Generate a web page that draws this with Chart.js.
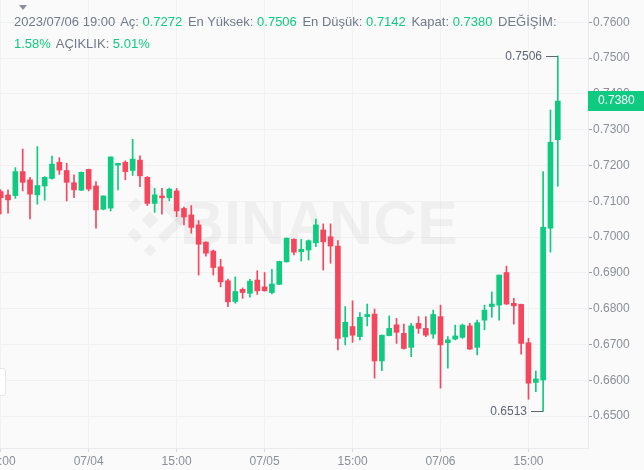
<!DOCTYPE html>
<html>
<head>
<meta charset="utf-8">
<script src="https://cdn.jsdelivr.net/npm/chart.js@4.4.0/dist/chart.umd.min.js"></script>
<style>
    html, body { margin: 0; padding: 0; background: #fafafa; }
    #wrap { position: relative; width: 644px; height: 470px; overflow: hidden; }
    #c { position: absolute; left: 0; top: 0; }
    .header { position: absolute; left: 14px; font: 13px 'Liberation Sans', Arial, sans-serif; color: #707a8a; white-space: nowrap; }
    .header span { margin-right: 2px; }
    .v { color: #0ecb81; }
    #caret { position: absolute; left: 19px; top: 5px; width: 0; height: 0;
             border-left: 4px solid transparent; border-right: 4px solid transparent; border-top: 5px solid #8a8f98; }
    #tab { position: absolute; left: -6px; top: 368px; width: 10px; height: 26px; background: #fff;
           border: 1px solid #e3e5e8; border-radius: 3px; }
</style>
</head>
<body>
<div id="wrap">
    <canvas id="c" width="644" height="470"></canvas>
    <div id="caret"></div>
    <div id="tab"></div>
    <div class="header" style="top:14px">
        <span>2023/07/06 19:00</span>
        <span>Aç: <b class="v" style="font-weight:normal">0.7272</b></span>
        <span>En Yüksek: <b class="v" style="font-weight:normal">0.7506</b></span>
        <span>En Düşük: <b class="v" style="font-weight:normal">0.7142</b></span>
        <span>Kapat: <b class="v" style="font-weight:normal">0.7380</b></span>
        <span>DEĞİŞİM:</span>
    </div>
    <div class="header" style="top:36px">
        <span class="v">1.58%</span>
        <span>AÇIKLIK: <b class="v" style="font-weight:normal">5.01%</b></span>
    </div>
</div>
<script>
// hourly candles, 2023/07/03 15:00 .. 2023/07/06 19:00
const opens = [
    0.7127, 0.7118, 0.7116, 0.7183, 0.7160, 0.7118, 0.7143, 0.7164, 0.7209, 0.7186,
    0.7152, 0.7131, 0.7189, 0.7143, 0.7078, 0.7081, 0.7201, 0.7209, 0.7186, 0.7215,
    0.7167, 0.7094, 0.7115, 0.7110, 0.7129, 0.7080, 0.7062, 0.7034, 0.6986, 0.6961,
    0.6917, 0.6878, 0.6820, 0.6854, 0.6843, 0.6880, 0.6861, 0.6845, 0.6868, 0.6931,
    0.6994, 0.6959, 0.6964, 0.6984, 0.7020, 0.7001, 0.6975, 0.6721, 0.6750, 0.6722,
    0.6778, 0.6785, 0.6654, 0.6725, 0.6755, 0.6731, 0.6692, 0.6759, 0.6745, 0.6729,
    0.6778, 0.6705, 0.6715, 0.6720, 0.6752, 0.6692, 0.6768, 0.6806, 0.6810, 0.6901,
    0.6815, 0.6812, 0.6705, 0.6594, 0.6601, 0.7025, 0.7272
];
const highs = [
    0.7132, 0.7132, 0.7194, 0.7246, 0.7167, 0.7253, 0.7169, 0.7226, 0.7222, 0.7206,
    0.7174, 0.7182, 0.7190, 0.7155, 0.7115, 0.7224, 0.7207, 0.7213, 0.7273, 0.7227,
    0.7169, 0.7136, 0.7136, 0.7137, 0.7136, 0.7084, 0.7088, 0.7046, 0.6987, 0.6964,
    0.6938, 0.6883, 0.6889, 0.6858, 0.6882, 0.6906, 0.6901, 0.6910, 0.6933, 0.6998,
    0.6995, 0.6994, 0.6992, 0.7050, 0.7037, 0.7037, 0.6990, 0.6806, 0.6822, 0.6789,
    0.6813, 0.6799, 0.6726, 0.6780, 0.6773, 0.6757, 0.6759, 0.6778, 0.6778, 0.6796,
    0.6810, 0.6722, 0.6754, 0.6757, 0.6759, 0.6768, 0.6810, 0.6847, 0.6894, 0.6919,
    0.6829, 0.6813, 0.6717, 0.6626, 0.7183, 0.7355, 0.7506
];
const lows = [
    0.7065, 0.7067, 0.7108, 0.7129, 0.7051, 0.7092, 0.7103, 0.7162, 0.7175, 0.7101,
    0.7110, 0.7130, 0.7129, 0.7025, 0.7076, 0.7073, 0.7132, 0.7160, 0.7172, 0.7141,
    0.7088, 0.7069, 0.7064, 0.7101, 0.7057, 0.7034, 0.7011, 0.6894, 0.6947, 0.6894,
    0.6861, 0.6806, 0.6815, 0.6829, 0.6832, 0.6840, 0.6849, 0.6841, 0.6867, 0.6930,
    0.6950, 0.6933, 0.6936, 0.6973, 0.6908, 0.6927, 0.6685, 0.6699, 0.6706, 0.6713,
    0.6752, 0.6606, 0.6627, 0.6724, 0.6703, 0.6687, 0.6666, 0.6731, 0.6722, 0.6717,
    0.6578, 0.6634, 0.6713, 0.6717, 0.6686, 0.6671, 0.6741, 0.6776, 0.6768, 0.6812,
    0.6757, 0.6673, 0.6547, 0.6568, 0.6513, 0.6958, 0.7142
];
const closes = [
    0.7110, 0.7104, 0.7183, 0.7153, 0.7120, 0.7144, 0.7167, 0.7204, 0.7187, 0.7153,
    0.7132, 0.7181, 0.7134, 0.7076, 0.7115, 0.7224, 0.7206, 0.7183, 0.7218, 0.7171,
    0.7094, 0.7118, 0.7110, 0.7134, 0.7073, 0.7056, 0.7027, 0.6980, 0.6955, 0.6915,
    0.6875, 0.6819, 0.6848, 0.6845, 0.6877, 0.6850, 0.6850, 0.6869, 0.6932, 0.6997,
    0.6958, 0.6966, 0.6990, 0.7034, 0.6987, 0.6975, 0.6717, 0.6762, 0.6726, 0.6776,
    0.6784, 0.6654, 0.6726, 0.6745, 0.6734, 0.6689, 0.6752, 0.6745, 0.6726, 0.6784,
    0.6699, 0.6713, 0.6724, 0.6754, 0.6687, 0.6761, 0.6796, 0.6813, 0.6894, 0.6813,
    0.6808, 0.6703, 0.6592, 0.6604, 0.7027, 0.7265, 0.7380
];

const xTickIdx = [0, 12, 24, 36, 48, 60, 72];
const xTickLabels = ['15:00', '07/04', '15:00', '07/05', '15:00', '07/06', '15:00'];
const yTicks = [0.65, 0.66, 0.67, 0.68, 0.69, 0.70, 0.71, 0.72, 0.73, 0.74, 0.75, 0.76];

const UP = '#0ecb81';
const DOWN = '#f6465d';
const AXIS_TEXT = '#8a8f98';

const colors = opens.map((o, i) => closes[i] >= o ? UP : DOWN);
const wickData = opens.map((o, i) => ({ x: i, y: [lows[i], highs[i]] }));
const bodyData = opens.map((o, i) => ({ x: i, y: [o, closes[i]] }));

const watermark = {
    id: 'watermark',
    beforeDatasetsDraw(chart) {
        const ctx = chart.ctx;
        ctx.save();
        ctx.fillStyle = 'rgba(0,0,0,0.045)';
        ctx.font = "bold 61px 'Liberation Sans', Arial, sans-serif";
        ctx.textBaseline = 'alphabetic';
        ctx.fillText('BINANCE', 180, 244);
        // rough logo: diamond built from rotated squares
        ctx.translate(150, 220);
        ctx.rotate(Math.PI / 4);
        ctx.fillRect(-6, -6, 12, 12);
        ctx.fillRect(-26, -26, 9, 9);
        ctx.fillRect(17, 17, 9, 9);
        ctx.fillRect(-26, -6, 9, 12);
        ctx.fillRect(-6, 17, 12, 9);
        ctx.fillRect(-6, -26, 32, 9);
        ctx.fillRect(17, -26, 9, 32);
        ctx.restore();
    }
};

const marks = {
    id: 'marks',
    afterDraw(chart) {
        const ctx = chart.ctx;
        const xs = chart.scales.x;
        const ys = chart.scales.y;
        const hi = Math.max(...highs);
        const lo = Math.min(...lows);
        const hiIdx = highs.indexOf(hi);
        const loIdx = lows.indexOf(lo);

        ctx.save();
        ctx.font = "12px 'Liberation Sans', Arial, sans-serif";
        ctx.textAlign = 'right';
        ctx.textBaseline = 'middle';
        [[hiIdx, hi], [loIdx, lo]].forEach(([i, v]) => {
            const px = Math.round(xs.getPixelForValue(i));
            const py = Math.round(ys.getPixelForValue(v)) + 0.5;
            ctx.strokeStyle = '#5e6673';
            ctx.lineWidth = 1;
            ctx.beginPath();
            ctx.moveTo(px - 12, py);
            ctx.lineTo(px, py);
            ctx.stroke();
            ctx.fillStyle = '#5e6673';
            ctx.fillText(v.toFixed(4), px - 16, py);
        });

        // last price tag on the axis
        const last = closes[closes.length - 1];
        const ly = ys.getPixelForValue(last);
        ctx.fillStyle = UP;
        ctx.fillRect(chart.chartArea.right, Math.round(ly) - 10, 644 - chart.chartArea.right, 20);
        ctx.fillStyle = '#ffffff';
        ctx.textAlign = 'left';
        ctx.fillText(last.toFixed(4), chart.chartArea.right + 10, Math.round(ly));
        ctx.restore();
    }
};

new Chart(document.getElementById('c'), {
    type: 'bar',
    data: {
        datasets: [
            {
                label: 'wick',
                data: wickData,
                backgroundColor: colors,
                barThickness: 1,
                grouped: false,
                order: 2
            },
            {
                label: 'body',
                data: bodyData,
                backgroundColor: colors,
                barThickness: 5,
                minBarLength: 1,
                grouped: false,
                order: 1
            }
        ]
    },
    options: {
        responsive: false,
        animation: false,
        devicePixelRatio: 1,
        layout: { padding: 0 },
        plugins: {
            legend: { display: false },
            tooltip: { enabled: false }
        },
        scales: {
            x: {
                type: 'linear',
                min: -0.0955,
                max: 80.12,
                offset: false,
                grid: { offset: false, color: '#f0f1f3', tickColor: '#d5d8dc', tickLength: 4 },
                border: { color: '#e8eaed' },
                ticks: {
                    color: AXIS_TEXT,
                    font: { family: "'Liberation Sans', Arial, sans-serif", size: 12 },
                    padding: 2,
                    maxRotation: 0,
                    autoSkip: false,
                    callback: (v) => xTickLabels[xTickIdx.indexOf(v)]
                },
                afterBuildTicks: (s) => { s.ticks = xTickIdx.map(v => ({ value: v })); },
                afterFit: (s) => { s.height = 22; s.paddingLeft = 0; s.paddingRight = 0; }
            },
            y: {
                position: 'right',
                min: 0.64109,
                max: 0.766229,
                grid: { color: '#f0f1f3', tickColor: '#9aa0a6', tickLength: 4 },
                border: { color: '#e8eaed' },
                ticks: {
                    color: AXIS_TEXT,
                    font: { family: "'Liberation Sans', Arial, sans-serif", size: 12 },
                    padding: 1,
                    callback: (v) => v.toFixed(4)
                },
                afterBuildTicks: (s) => { s.ticks = yTicks.map(v => ({ value: v })); },
                afterFit: (s) => { s.width = 56; s.paddingTop = 0; s.paddingBottom = 0; }
            }
        }
    },
    plugins: [watermark, marks]
});
</script>
</body>
</html>
